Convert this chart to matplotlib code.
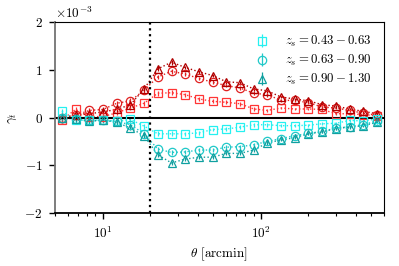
import matplotlib
matplotlib.use("Agg")
import matplotlib.pyplot as plt
from matplotlib.ticker import ScalarFormatter, NullFormatter
import numpy as np

plt.rcParams['font.family'] = 'serif'
plt.rcParams['font.serif'] = ['cmr10', 'DejaVu Serif']
plt.rcParams['mathtext.fontset'] = 'cm'
plt.rcParams['axes.formatter.use_mathtext'] = True
plt.rcParams['axes.unicode_minus'] = True

theta = [5.52, 6.74, 8.23, 10.05, 12.27, 14.98, 18.28, 22.32, 27.25, 33.26,
         40.61, 49.57, 60.51, 73.87, 90.18, 110.1, 134.4, 164.1, 200.3, 244.5,
         298.5, 364.4, 444.8, 543.0]

# values in units of 1e-3
red_sq = [-0.05, 0.17, 0.02, 0.02, 0.10, 0.20, 0.30, 0.51, 0.52, 0.48, 0.39, 0.34,
          0.32, 0.29, 0.18, 0.15, 0.20, 0.18, 0.18, 0.17, 0.08, 0.08, 0.06, 0.04]
red_ci = [0.00, 0.05, 0.15, 0.17, 0.30, 0.35, 0.57, 0.85, 0.97, 0.91, 0.82, 0.74,
          0.67, 0.62, 0.51, 0.48, 0.36, 0.36, 0.31, 0.22, 0.20, 0.15, 0.09, 0.05]
red_tr = [0.00, 0.05, 0.08, 0.12, 0.17, 0.27, 0.60, 1.02, 1.16, 1.05, 0.96, 0.88,
          0.75, 0.73, 0.60, 0.56, 0.43, 0.39, 0.35, 0.27, 0.24, 0.18, 0.13, 0.08]
cy_sq = [0.13, -0.05, -0.06, -0.05, -0.08, -0.04, -0.18, -0.34, -0.34, -0.34, -0.32, -0.25,
         -0.24, -0.20, -0.15, -0.15, -0.17, -0.17, -0.16, -0.13, -0.12, -0.06, -0.07, -0.03]
cy_ci = [0.00, -0.03, -0.06, -0.06, -0.08, -0.15, -0.34, -0.66, -0.73, -0.72, -0.68, -0.68,
         -0.62, -0.61, -0.57, -0.50, -0.44, -0.38, -0.33, -0.29, -0.22, -0.19, -0.15, -0.07]
cy_tr = [0.00, -0.03, -0.08, -0.05, -0.10, -0.22, -0.38, -0.78, -0.95, -0.87, -0.83, -0.83,
         -0.75, -0.75, -0.68, -0.53, -0.47, -0.42, -0.34, -0.30, -0.23, -0.20, -0.17, -0.10]
err = [0.06, 0.06, 0.05, 0.05, 0.05, 0.05, 0.05, 0.05, 0.05, 0.04, 0.04, 0.04,
       0.04, 0.04, 0.04, 0.04, 0.03, 0.03, 0.03, 0.03, 0.03, 0.03, 0.03, 0.03]

labels = [r'$z_s = 0.43 - 0.63$', r'$z_s = 0.63 - 0.90$', r'$z_s = 0.90 - 1.30$']
markers = ['s', 'o', '^']
red_cols = ['#ff3535', '#e02020', '#b00000']
cy_cols = ['#25f0f0', '#20c8c8', '#10a0a0']

scale = 1e-3
fig = plt.figure(figsize=(3.99, 2.66), dpi=100)
ax = fig.add_axes([0.138, 0.199, 0.824, 0.718])

th = np.array(theta)
e = np.array(err) * scale
for vals, m, c in zip([red_sq, red_ci, red_tr], markers, red_cols):
    v = np.array(vals) * scale
    ax.plot(th, v, ls=':', color=c, lw=1.0)
    ax.errorbar(th, v, yerr=e, fmt=m, mfc='none', mec=c, ecolor=c,
                ms=6, mew=0.9, elinewidth=0.9)
for vals, m, c, lab in zip([cy_sq, cy_ci, cy_tr], markers, cy_cols, labels):
    v = np.array(vals) * scale
    ax.plot(th, v, ls=':', color=c, lw=1.0)
    ax.errorbar(th, v, yerr=e, fmt=m, mfc='none', mec=c, ecolor=c,
                ms=6, mew=0.9, elinewidth=0.9, label=lab)

ax.axhline(0, color='k', lw=1.5)
ax.axvline(20, color='k', ls=':', lw=1.6)

ax.set_xscale('log')
ax.set_xlim(5, 600)
ax.set_ylim(-2e-3, 2e-3)
ax.set_yticks([-2e-3, -1e-3, 0, 1e-3, 2e-3])
fmt = ScalarFormatter(useMathText=True)
fmt.set_powerlimits((-2, 2))
ax.yaxis.set_major_formatter(fmt)
ax.xaxis.set_minor_formatter(NullFormatter())

ax.tick_params(axis='both', which='both', direction='out', top=False, right=False,
               labelsize=9.5)
ax.tick_params(axis='both', which='major', length=4, width=1.0, pad=5)
ax.tick_params(axis='x', which='minor', length=2.5, width=0.8)

ax.spines['left'].set_color('0.45')
ax.spines['left'].set_linewidth(1.3)
ax.spines['bottom'].set_linewidth(1.3)
ax.spines['top'].set_linewidth(0.8)
ax.spines['right'].set_linewidth(0.8)

ax.set_xlabel(r'$\theta$ [arcmin]', fontsize=9.5, labelpad=3)
ax.set_ylabel(r'$\gamma_t$', fontsize=9.5)
ax.yaxis.get_offset_text().set_fontsize(9.5)

ax.legend(loc='upper right', frameon=False, fontsize=9.2, handletextpad=1.1,
          handlelength=1.5, labelspacing=0.3, borderaxespad=0.75,
          borderpad=0.2)

fig.savefig('out.png', dpi=100)
